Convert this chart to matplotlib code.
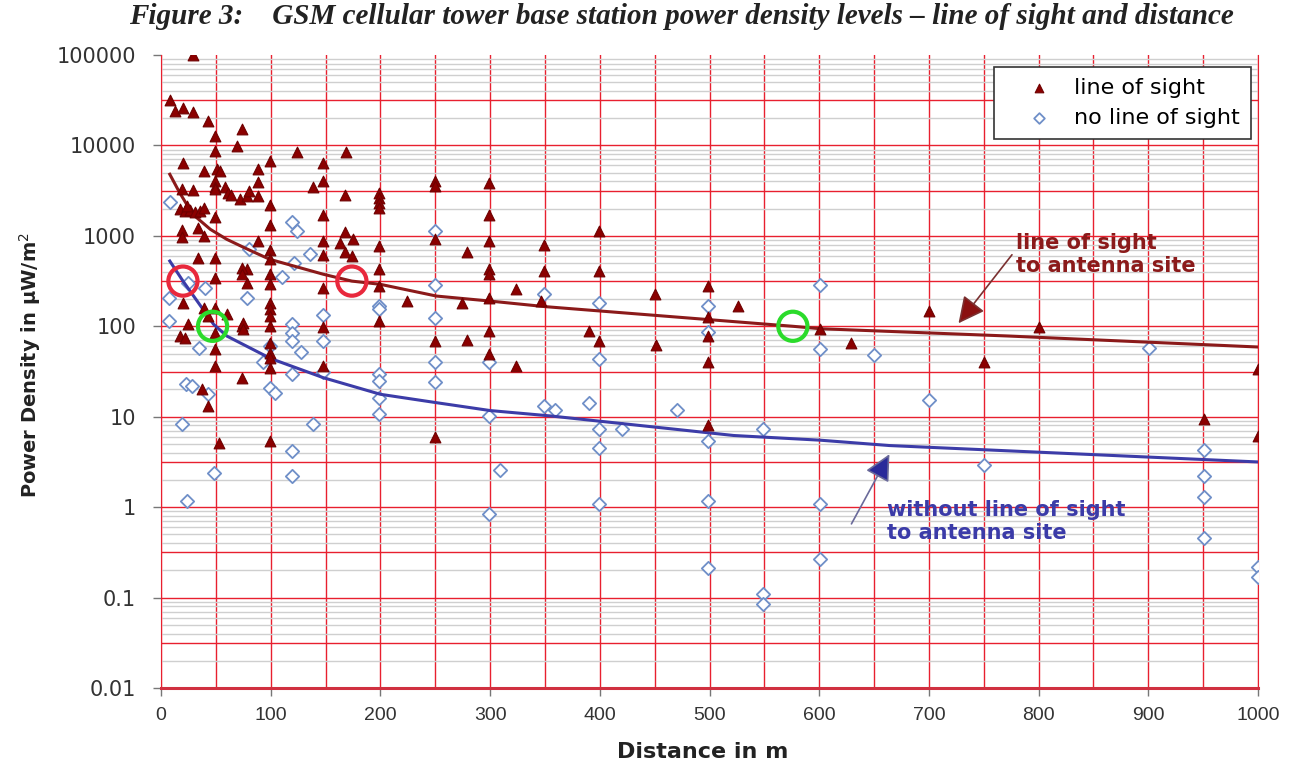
import numpy as np
import matplotlib
matplotlib.use("Agg")
import matplotlib.pyplot as plt
from matplotlib.ticker import FixedLocator, NullFormatter, FuncFormatter

# ---------------- data ----------------
los_x = [8, 13, 20, 29, 29, 43, 49, 49, 69, 74, 20, 39, 51, 54, 49, 49, 19, 29, 49, 58,
         61, 64, 72, 78, 80, 88, 88, 88, 99, 124, 148, 148, 148, 148, 148, 148, 148, 148,
         139, 169, 168, 199, 199, 199, 199, 199, 199, 199, 199, 250, 250, 250, 250, 250,
         299, 299, 299, 299, 299, 299, 299, 299, 324, 324, 274, 279, 279, 224, 349, 349, 346,
         163, 168, 175, 168, 174, 88, 78, 74, 74, 78, 49, 49, 34, 49, 19, 19, 39, 34,
         17, 22, 26, 31, 36, 24, 39,
         20, 39, 49, 60, 25, 17, 22, 49, 49, 43, 74, 49, 37, 43, 53, 75, 75, 74,
         99, 99, 99, 99, 99, 99, 99, 99, 99, 99, 99, 99, 99, 99, 99,
         390, 399, 399, 399, 450, 451, 499, 499, 499, 499, 499, 526, 601, 629, 700, 750,
         800, 951, 1000, 1000]
los_y = [32000, 24000, 25700, 23600, 99000, 18600, 12600, 8700, 9800, 15200, 6400, 5200,
         5500, 5200, 4050, 3500, 3270, 3220, 3300, 3430,
         3000, 2800, 2540, 2760, 3130, 2760, 3900, 5500, 6700, 8500, 6400, 4050, 1690, 880,
         610, 268, 97, 36,
         3430, 8400, 2800, 3000, 2640, 2330, 2050, 773, 428, 279, 115, 4050, 3600, 915, 69, 5.9,
         3830, 1690, 880, 428, 376, 208, 89, 49, 257, 36, 183, 664, 70, 188, 787, 408, 190,
         840, 1090, 930, 655, 600, 880, 428, 445, 376, 300, 1600, 575, 575, 340, 1150, 980, 990, 1230,
         1970, 1880, 1930, 1840, 1880, 2140, 2050,
         183, 161, 161, 136, 105, 78, 75, 85, 56, 130, 101, 36, 20.5, 13.1, 5.1, 110, 93, 27,
         2200, 1320, 700, 551, 376, 292, 183, 155, 130, 101, 66, 51, 45, 35, 5.4,
         88, 69, 1130, 408, 226, 62, 279, 128, 78, 40, 8.1, 168, 93, 65, 146, 40,
         99, 9.5, 34, 6.1]

nlos_x = [8, 119, 124, 136, 80, 121, 110, 40, 7, 78, 7, 250, 250, 199, 199, 349, 148, 250,
          25, 119, 119, 119, 148, 35, 93, 99, 128, 119, 148, 199, 199, 199, 199, 250, 250,
          299, 299, 349, 23, 28, 43, 99, 104, 19, 139, 119, 48, 119, 309, 24, 299,
          399, 499, 499, 601, 601, 650, 399, 901, 359, 390, 470, 700, 399, 420, 399, 499,
          549, 750, 951, 951, 951, 951, 1000, 1000, 399, 499, 601, 499, 601, 549, 549]
nlos_y = [2340, 1420, 1130, 627, 720, 506, 354, 268, 208, 208, 115, 1130, 284, 168, 155, 226,
          132, 122, 304, 105, 85, 69, 69, 57, 40, 60, 52, 29.5, 31, 30, 25, 16.2, 10.8, 40, 24,
          40, 10.3, 13.1, 22.8, 21.9, 17.7, 21, 18.5, 8.4, 8.3, 4.2, 2.4, 2.2, 2.6, 1.16, 0.84,
          183, 168, 86, 286, 56, 48, 43, 57, 11.9, 14.1, 11.9, 15.3, 7.4, 7.3, 4.5, 5.4,
          7.3, 2.9, 4.3, 2.2, 1.3, 0.46, 0.22, 0.17, 1.07, 1.17, 1.07, 0.21, 0.27, 0.11, 0.085]

# trend curves
los_curve_x = [8, 17, 29, 45, 60, 78, 99, 148, 174, 200, 251, 300, 350, 576, 601, 773, 1000]
los_curve_y = [4800, 3000, 1730, 1180, 915, 720, 551, 376, 316, 291, 216, 190, 165, 100, 94, 78, 59]
nlos_curve_x = [8, 20, 48, 60, 100, 148, 200, 251, 300, 355, 522, 601, 664, 1000]
nlos_curve_y = [527, 317, 105, 78, 44, 27, 17.7, 14.3, 11.7, 10.2, 6.2, 5.5, 4.8, 3.16]

# highlight circles
circle_x = [20, 174, 47, 576]
circle_y = [316, 316, 100, 100]
circle_colors = ["#E8283C", "#E8283C", "#2BDB2B", "#2BDB2B"]

x_ticks = [0, 100, 200, 300, 400, 500, 600, 700, 800, 900, 1000]
y_ticks = [0.01, 0.1, 1, 10, 100, 1000, 10000, 100000]
y_tick_labels = ["0.01", "0.1", "1", "10", "100", "1000", "10000", "100000"]

title = "Figure 3:    GSM cellular tower base station power density levels \u2013 line of sight and distance"

# ---------------- figure ----------------
RED = "#E8202F"
fig = plt.figure(figsize=(12.96, 7.69), dpi=100)
ax = fig.add_axes([161 / 1296, 81 / 769, 1097 / 1296, 633 / 769])
ax.set_yscale("log")
ax.set_xlim(0, 1000)
ax.set_ylim(0.01, 100000)

# grid
ax.xaxis.set_major_locator(FixedLocator(x_ticks))
ax.xaxis.set_minor_locator(FixedLocator(np.arange(50, 1000, 100)))
ax.grid(True, which="both", axis="x", color=RED, lw=1.0, zorder=1)
ax.yaxis.set_major_locator(FixedLocator(y_ticks))
ax.yaxis.set_minor_locator(FixedLocator([m * 10.0 ** k for k in range(-2, 5) for m in (2, 4, 5, 6, 7, 8, 9)]))
ax.grid(True, which="minor", axis="y", color="#CFCFCF", lw=1.0, zorder=0)
for k in range(-2, 5):
    ax.axhline(10.0 ** (k + 0.5), color=RED, lw=1.0, zorder=1)
    if k > -2:
        ax.axhline(10.0 ** k, color=RED, lw=1.0, zorder=1)
ax.set_axisbelow(True)

ax.yaxis.set_major_formatter(FuncFormatter(lambda v, p: y_tick_labels[y_ticks.index(v)] if v in y_ticks else ""))
ax.yaxis.set_minor_formatter(NullFormatter())
ax.tick_params(axis="both", which="minor", length=0)
ax.tick_params(axis="y", which="major", length=6, width=1, color="#777777", pad=12,
               labelsize=15, labelcolor="#333333")
ax.tick_params(axis="x", which="major", length=6, width=1, color="#777777", pad=8,
               labelsize=14, labelcolor="#333333")
for lab in ax.get_xticklabels():
    lab.set_fontfamily("Liberation Sans")
for lab in ax.get_yticklabels():
    lab.set_fontfamily("DejaVu Sans")

ax.spines["top"].set_visible(False)
ax.spines["left"].set_color(RED)
ax.spines["right"].set_color(RED)
ax.spines["bottom"].set_color("#D03040")
ax.spines["bottom"].set_linewidth(2.2)

# trend curves
ax.plot(los_curve_x, los_curve_y, color="#8B1A1A", lw=2.2, zorder=4)
ax.plot(nlos_curve_x, nlos_curve_y, color="#3C3CA8", lw=2.2, zorder=4)

# scatter
sc_nlos = ax.scatter(nlos_x, nlos_y, marker="D", s=46, facecolors="white", edgecolors="#6F8FC8",
                     linewidths=1.3, zorder=3, label="no line of sight")
sc_los = ax.scatter(los_x, los_y, marker="^", s=60, facecolors="#8B0000", edgecolors="#6E0000",
                    linewidths=0.8, zorder=5, label="line of sight")

# highlight circles
ax.scatter(circle_x, circle_y, marker="o", s=21 ** 2, facecolors="none", edgecolors=circle_colors,
           linewidths=3, zorder=6)

# legend
leg = ax.legend(handles=[sc_los, sc_nlos], loc="upper right", bbox_to_anchor=(0.9936, 0.981),
                borderaxespad=0, frameon=True, fancybox=False, framealpha=1, edgecolor="#333333",
                prop={"family": "DejaVu Sans", "size": 16}, markerscale=0.8, handletextpad=0.1,
                borderpad=0.5, labelspacing=0.45, handlelength=3.0)
leg.get_frame().set_linewidth(1.2)
leg.set_zorder(10)

# annotations
ax.annotate("line of sight\nto antenna site", xy=(727, 108), xytext=(779, 618),
            color="#8B1A1A", fontsize=15, fontweight="bold", family="DejaVu Sans",
            ha="left", va="center", zorder=8,
            arrowprops=dict(arrowstyle="-|>,head_length=0.9,head_width=0.45", mutation_scale=18,
                            edgecolor="#7A3030", facecolor="#8B1010", lw=1.2,
                            shrinkA=0, shrinkB=0, relpos=(-0.02, 0.5), patchA=None))
ax.annotate("without line of sight\nto antenna site", xy=(664, 3.85), xytext=(662, 0.69),
            color="#3B3BA8", fontsize=15, fontweight="bold", family="DejaVu Sans",
            ha="left", va="center", zorder=8,
            arrowprops=dict(arrowstyle="-|>,head_length=0.9,head_width=0.45", mutation_scale=18,
                            edgecolor="#6A6A9A", facecolor="#2A2A9A", lw=1.2,
                            shrinkA=0, shrinkB=0, relpos=(-0.15, 0.45), patchA=None))

# labels & title
fig.text(30 / 1296, 1 - 365 / 769, "Power Density in \u03bcW/m$^{2}$", rotation=90,
         ha="center", va="center", fontsize=14, fontweight="bold", family="DejaVu Sans",
         color="#222222")
fig.text(703 / 1296, 1 - 752 / 769, "Distance in m", ha="center", va="center",
         fontsize=16, fontweight="bold", family="DejaVu Sans", color="#222222")
fig.text(681 / 1296, 1 - 16 / 769, title, ha="center", va="center", fontsize=21,
         fontweight="bold", fontstyle="italic", family="Liberation Serif", color="#222222")

fig.savefig("out.png", dpi=100)
